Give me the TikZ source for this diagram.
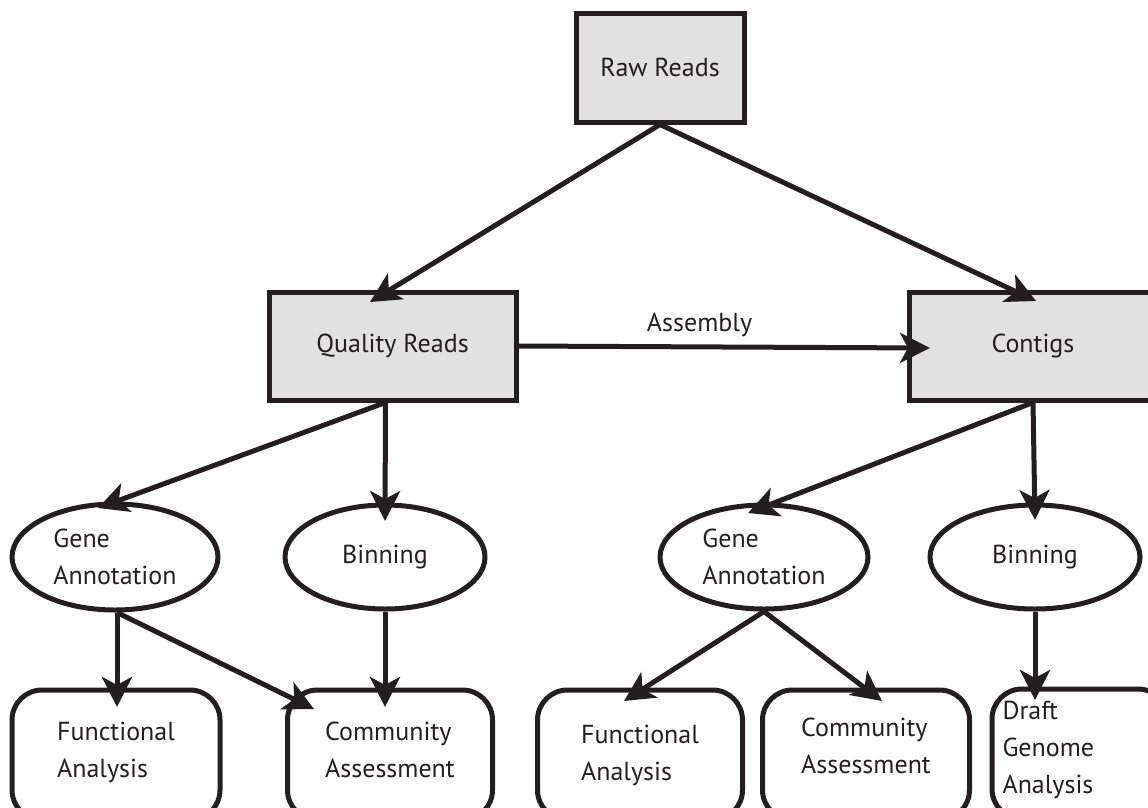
\documentclass[tikz,border=0pt]{standalone}
\usepackage{fontspec}
\setmainfont{PT Sans}
\usetikzlibrary{arrows.meta,shapes.geometric}
\definecolor{boxgray}{HTML}{E1E1E1}
\definecolor{ink}{HTML}{231F20}
\begin{document}
\begin{tikzpicture}[x=1pt,y=-1pt,
  every node/.style={font=\fontsize{26}{37}\selectfont, text=ink},
  graybox/.style={draw=ink, line width=5pt, fill=boxgray, rectangle, inner sep=0pt},
  oval/.style={draw=ink, line width=5pt, ellipse, inner sep=0pt, align=left},
  roundbox/.style={draw=ink, line width=5pt, rectangle, rounded corners=30pt, inner sep=0pt},
  conn/.style={draw=ink, line width=5pt, -{Stealth[length=30pt,width=30pt,inset=8pt]}}]
\useasboundingbox (0,0) rectangle (1148,807);
% top boxes
\node[graybox, minimum width=168pt, minimum height=109pt] (raw) at (660,67.5) {Raw Reads};
\node[graybox, minimum width=247pt, minimum height=108pt] (qr) at (392.5,346) {Quality Reads};
\node[graybox, minimum width=247pt, minimum height=108pt] (ctg) at (1033,346) {Contigs};
% ellipses
\node[oval, minimum width=206pt, minimum height=106pt] (gal) at (115,557) {Gene\\Annotation};
\node[oval, minimum width=200pt, minimum height=104pt] (binl) at (385,557) {Binning};
\node[oval, minimum width=208pt, minimum height=104pt] (gar) at (764,557) {Gene\\Annotation};
\node[oval, minimum width=210pt, minimum height=104pt] (binr) at (1035,557) {Binning};
% bottom boxes
\node[roundbox, minimum width=208pt, minimum height=130pt] (fal) at (116,755) {};
\node[align=left] (falt) at (116,752) {Functional\\Analysis};
\node[roundbox, minimum width=205pt, minimum height=130pt] (cal) at (390,755) {};
\node[align=left] (calt) at (390,750) {Community\\Assessment};
\node[roundbox, minimum width=205pt, minimum height=130pt] (far) at (640,755) {};
\node[align=left] (fart) at (640,755) {Functional\\Analysis};
\node[roundbox, minimum width=207pt, minimum height=130pt] (car) at (866,755) {};
\node[align=left] (cart) at (866,746) {Community\\Assessment};
\node[roundbox, minimum width=176pt, minimum height=130pt] (dga) at (1080,754) {};
\node[align=left, anchor=west] (dgat) at (999,750) {Draft\\Genome\\Analysis};
% tip coordinates
\coordinate (tqr) at (370,302);
\coordinate (tctg) at (1036,301);
\coordinate (tasm) at (930,348);
\coordinate (tgal) at (98,508);
\coordinate (tbinl) at (385,521);
\coordinate (tgar) at (748,513);
\coordinate (tbinr) at (1035,520);
\coordinate (tfal) at (117,707);
\coordinate (tcal1) at (314,709);
\coordinate (tcal2) at (385,707);
\coordinate (tfar) at (624,701);
\coordinate (tcar) at (882,701);
\coordinate (tdga) at (1035,700);
% connectors
\draw[conn] (raw.south) -- (tqr);
\draw[conn] (raw.south) -- (tctg);
\draw[conn] (qr.east) -- node[above=4pt, pos=0.44] (asm) {Assembly} (tasm);
\draw[conn] ([xshift=-7pt]qr.south) -- (tgal);
\draw[conn] ([xshift=-7pt]qr.south) -- (tbinl);
\draw[conn] (ctg.south) -- (tgar);
\draw[conn] (ctg.south) -- (tbinr);
\draw[conn] ([xshift=2pt]gal.south) -- (tfal);
\draw[conn] ([xshift=2pt]gal.south) -- (tcal1);
\draw[conn] (binl.south) -- (tcal2);
\draw[conn] (gar.south) -- (tfar);
\draw[conn] (gar.south) -- (tcar);
\draw[conn] (binr.south) -- (tdga);
\end{tikzpicture}
\end{document}
